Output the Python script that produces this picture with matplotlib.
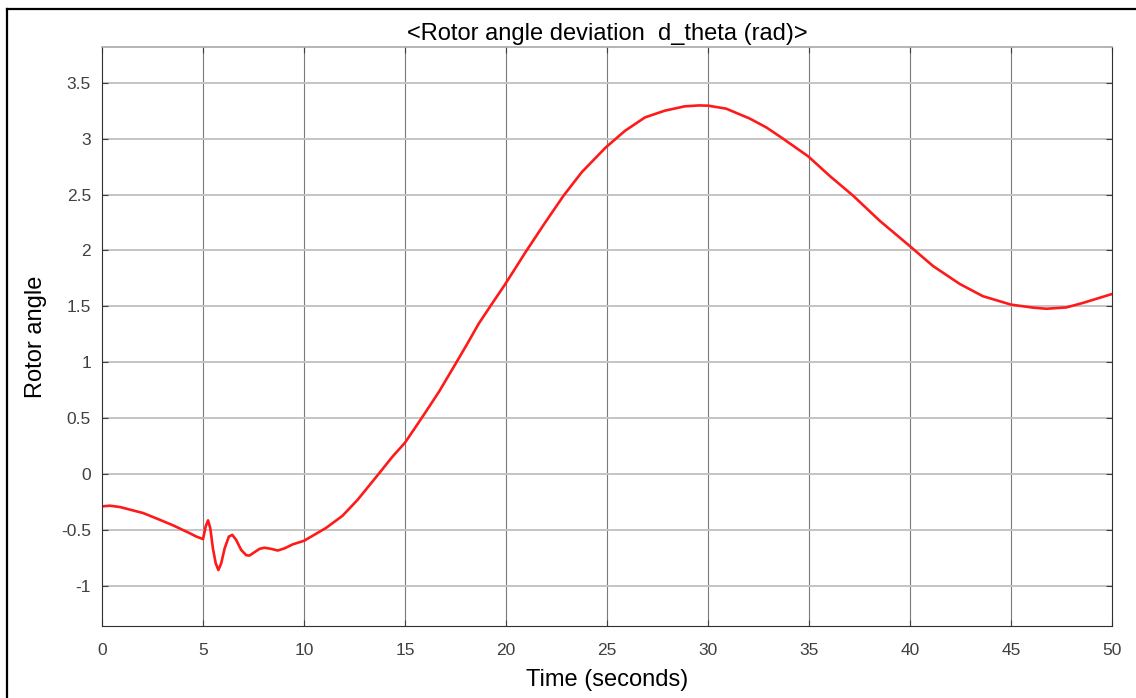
import matplotlib
matplotlib.use("Agg")
import matplotlib.pyplot as plt
from matplotlib.lines import Line2D

# values
t = [0.0, 0.39, 0.89, 2.04, 2.86, 3.52, 4.34, 4.67, 5.0, 5.13, 5.25, 5.36, 5.49,
     5.63, 5.76, 5.9, 6.07, 6.28, 6.45, 6.64, 6.89, 7.14, 7.3, 7.55, 7.8, 8.04,
     8.37, 8.7, 9.03, 9.44, 10.0, 11.09, 11.9, 12.65, 13.72, 14.38, 15.0, 15.86,
     16.68, 17.5, 18.08, 18.65, 19.31, 19.93, 20.46, 20.95, 21.94, 22.85, 23.75,
     24.93, 25.89, 26.88, 27.86, 28.85, 29.55, 30.0, 30.9, 32.06, 32.89, 33.71,
     34.97, 36.02, 37.18, 38.5, 39.98, 41.14, 42.46, 43.61, 45.0, 46.09, 46.75,
     47.74, 48.56, 50.0]
d_theta = [-0.29, -0.284, -0.296, -0.35, -0.41, -0.46, -0.53, -0.56, -0.583,
           -0.47, -0.415, -0.485, -0.666, -0.80, -0.86, -0.80, -0.666, -0.56,
           -0.545, -0.59, -0.68, -0.727, -0.73, -0.70, -0.67, -0.66, -0.67, -0.685,
           -0.666, -0.63, -0.598, -0.483, -0.375, -0.232, 0.006, 0.155, 0.28, 0.51,
           0.735, 0.985, 1.164, 1.345, 1.524, 1.69, 1.84, 1.98, 2.25, 2.49, 2.70,
           2.92, 3.07, 3.19, 3.25, 3.289, 3.297, 3.295, 3.268, 3.18, 3.10, 3.0,
           2.84, 2.667, 2.49, 2.265, 2.04, 1.86, 1.70, 1.59, 1.515, 1.488, 1.478,
           1.49, 1.53, 1.61]

x_ticks = [0, 5, 10, 15, 20, 25, 30, 35, 40, 45, 50]
y_ticks = [-1, -0.5, 0, 0.5, 1, 1.5, 2, 2.5, 3, 3.5]
y_labels = ["-1", "-0.5", "0", "0.5", "1", "1.5", "2", "2.5", "3", "3.5"]

plt.rcParams['font.family'] = ['Liberation Sans', 'DejaVu Sans']

fig = plt.figure(figsize=(11.36, 6.98), dpi=100)
ax = fig.add_axes([0.0898, 0.1032, 0.8891, 0.8295])

ax.plot(t, d_theta, color='#ff1a1a', linewidth=1.9)

ax.set_xlim(0, 50)
ax.set_ylim(-1.36, 3.82)
ax.set_xticks(x_ticks)
ax.set_yticks(y_ticks)
ax.set_yticklabels(y_labels)

# grid: vertical lines dark and thin, horizontal lines lighter
for x in x_ticks[1:-1]:
    ax.axvline(x, color='#7a7a7a', linewidth=0.8, zorder=0)
for y in y_ticks:
    ax.axhline(y, color='#c4c4c4', linewidth=1.4, zorder=0)

ax.tick_params(direction='in', length=4, top=True, right=True,
               labelsize=12.5, labelcolor='#404040', color='#404040')
ax.tick_params(axis='x', pad=12)
ax.tick_params(axis='y', pad=8)

for side in ['left', 'bottom', 'right']:
    ax.spines[side].set_color('#303030')
ax.spines['top'].set_color('#a8a8a8')
ax.spines['top'].set_linewidth(1.2)

ax.set_title("<Rotor angle deviation  d_theta (rad)>", fontsize=17, pad=5)
ax.set_xlabel("Time (seconds)", fontsize=17, labelpad=8)
ax.set_ylabel("Rotor angle", fontsize=17, labelpad=10)

# outer frame of the screenshot
fig.add_artist(Line2D([7 / 1136, 7 / 1136], [0, 1 - 9 / 698], color='black',
                      linewidth=1.6, transform=fig.transFigure))
fig.add_artist(Line2D([7 / 1136, 1], [1 - 9 / 698, 1 - 9 / 698], color='black',
                      linewidth=1.6, transform=fig.transFigure))

plt.savefig("out.png", dpi=100)
plt.close()
